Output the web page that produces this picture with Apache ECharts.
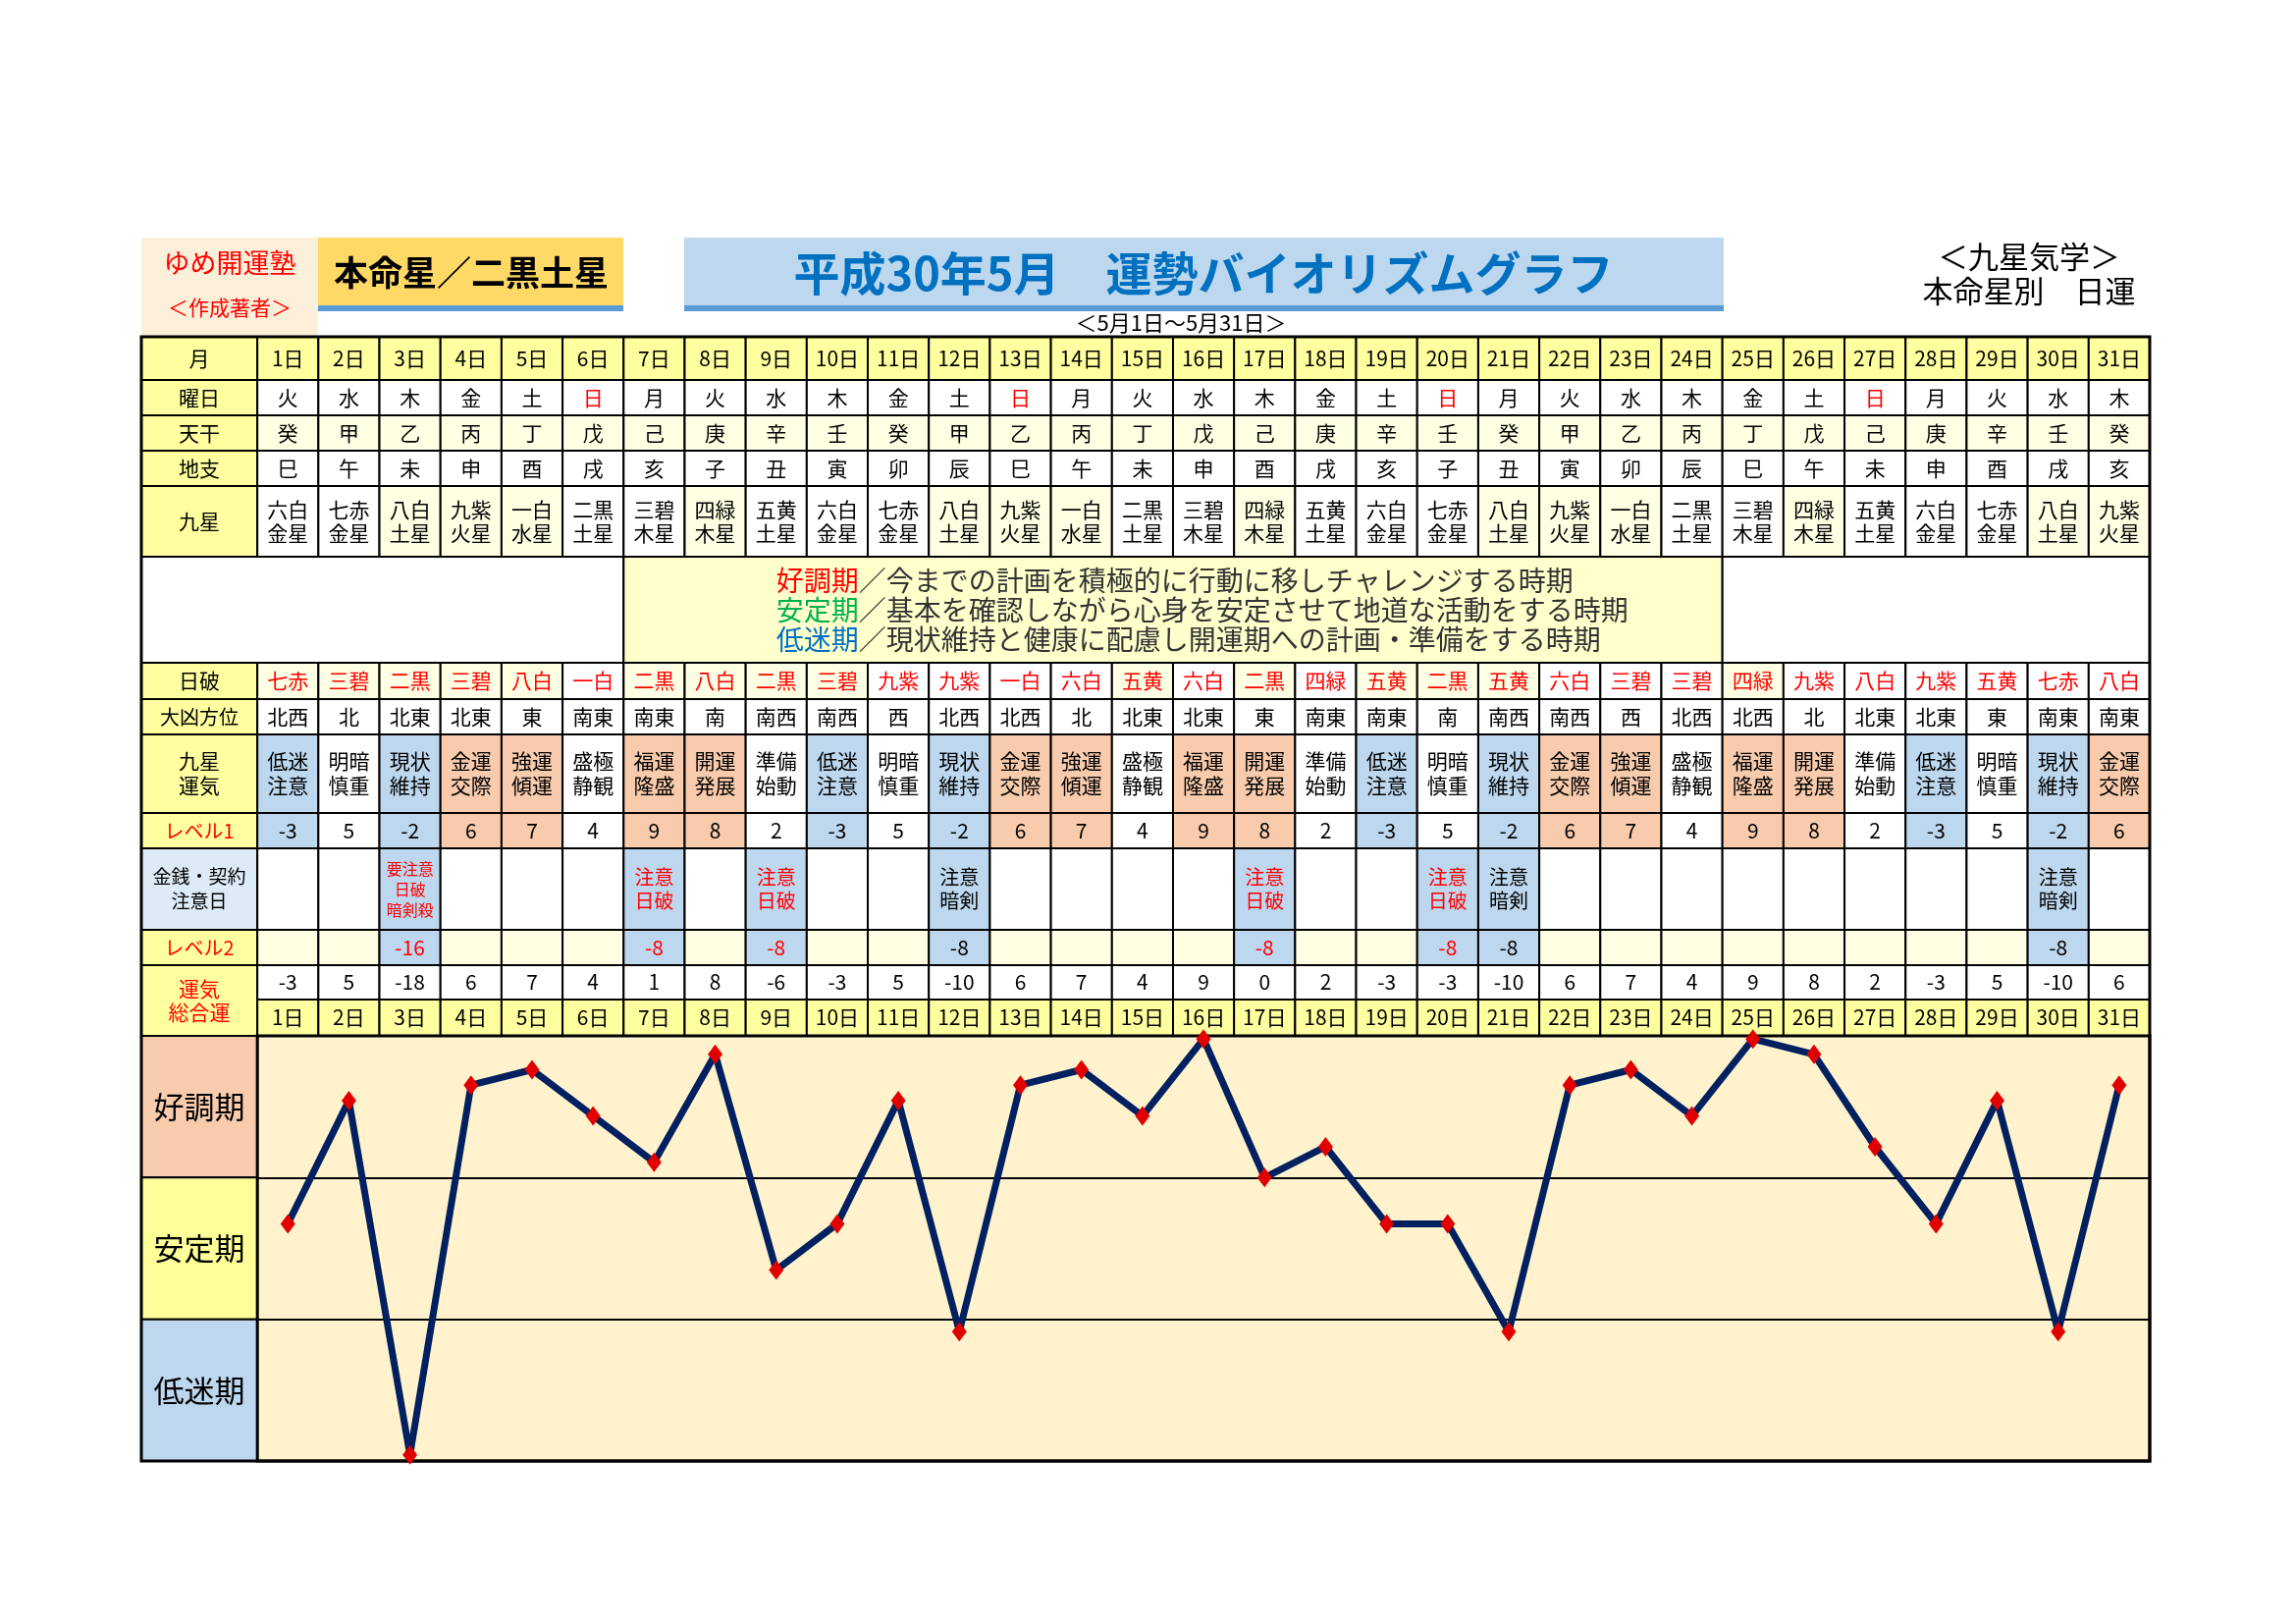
<!DOCTYPE html>
<html>
<head>
<meta charset="utf-8">
<title>運勢バイオリズムグラフ</title>
<script src="https://cdn.jsdelivr.net/npm/echarts@6/dist/echarts.min.js"></script>
<style>
html, body { margin: 0; padding: 0; background: #fff; }
#main { width: 2339px; height: 1654px; }
</style>
</head>
<body>
<div id="main"></div>
<script>
// data
var days = ['1日', '2日', '3日', '4日', '5日', '6日', '7日', '8日', '9日', '10日', '11日', '12日', '13日', '14日', '15日', '16日',
    '17日', '18日', '19日', '20日', '21日', '22日', '23日', '24日', '25日', '26日', '27日', '28日', '29日', '30日', '31日'];
var weekdays = ['火', '水', '木', '金', '土', '日', '月', '火', '水', '木', '金', '土', '日', '月', '火', '水',
    '木', '金', '土', '日', '月', '火', '水', '木', '金', '土', '日', '月', '火', '水', '木'];
var stems = ['癸', '甲', '乙', '丙', '丁', '戊', '己', '庚', '辛', '壬', '癸', '甲', '乙', '丙', '丁', '戊',
    '己', '庚', '辛', '壬', '癸', '甲', '乙', '丙', '丁', '戊', '己', '庚', '辛', '壬', '癸'];
var branches = ['巳', '午', '未', '申', '酉', '戌', '亥', '子', '丑', '寅', '卯', '辰', '巳', '午', '未', '申',
    '酉', '戌', '亥', '子', '丑', '寅', '卯', '辰', '巳', '午', '未', '申', '酉', '戌', '亥'];
var stars = ['六白金星', '七赤金星', '八白土星', '九紫火星', '一白水星', '二黒土星', '三碧木星', '四緑木星', '五黄土星',
    '六白金星', '七赤金星', '八白土星', '九紫火星', '一白水星', '二黒土星', '三碧木星', '四緑木星', '五黄土星',
    '六白金星', '七赤金星', '八白土星', '九紫火星', '一白水星', '二黒土星', '三碧木星', '四緑木星', '五黄土星',
    '六白金星', '七赤金星', '八白土星', '九紫火星'];
var paleStars = ['八白', '九紫', '一白', '四緑'];
var nippa = ['七赤', '三碧', '二黒', '三碧', '八白', '一白', '二黒', '八白', '二黒', '三碧', '九紫', '九紫', '一白', '六白', '五黄', '六白',
    '二黒', '四緑', '五黄', '二黒', '五黄', '六白', '三碧', '三碧', '四緑', '九紫', '八白', '九紫', '五黄', '七赤', '八白'];
var nippaPaleDays = [1, 2, 3, 4, 5, 7, 8, 9, 10, 15, 17, 19, 20, 21, 25];
var badDirections = ['北西', '北', '北東', '北東', '東', '南東', '南東', '南', '南西', '南西', '西', '北西', '北西', '北', '北東', '北東',
    '東', '南東', '南東', '南', '南西', '南西', '西', '北西', '北西', '北', '北東', '北東', '東', '南東', '南東'];
var fortunes = ['低迷注意', '明暗慎重', '現状維持', '金運交際', '強運傾運', '盛極静観', '福運隆盛', '開運発展', '準備始動',
    '低迷注意', '明暗慎重', '現状維持', '金運交際', '強運傾運', '盛極静観', '福運隆盛', '開運発展', '準備始動',
    '低迷注意', '明暗慎重', '現状維持', '金運交際', '強運傾運', '盛極静観', '福運隆盛', '開運発展', '準備始動',
    '低迷注意', '明暗慎重', '現状維持', '金運交際'];
var level1 = [-3, 5, -2, 6, 7, 4, 9, 8, 2, -3, 5, -2, 6, 7, 4, 9, 8, 2, -3, 5, -2, 6, 7, 4, 9, 8, 2, -3, 5, -2, 6];
var notes = ['', '', '要注意\n日破\n暗剣殺', '', '', '', '注意\n日破', '', '注意\n日破', '', '', '注意\n暗剣', '', '', '', '',
    '注意\n日破', '', '', '注意\n日破', '注意\n暗剣', '', '', '', '', '', '', '', '', '注意\n暗剣', ''];
var level2 = [null, null, -16, null, null, null, -8, null, -8, null, null, -8, null, null, null, null,
    -8, null, null, -8, -8, null, null, null, null, null, null, null, null, -8, null];
var totals = [-3, 5, -18, 6, 7, 4, 1, 8, -6, -3, 5, -10, 6, 7, 4, 9, 0, 2, -3, -3, -10, 6, 7, 4, 9, 8, 2, -3, 5, -10, 6];
var periods = ['好調期', '安定期', '低迷期'];
var periodNotes = ['今までの計画を積極的に行動に移しチャレンジする時期',
    '基本を確認しながら心身を安定させて地道な活動をする時期',
    '現状維持と健康に配慮し開運期への計画・準備をする時期'];
var bandLimits = [-18.4, 9.2];

var FONT = '"Noto Sans CJK JP", "Noto Sans", sans-serif';
var COL = {
    head: '#ffffa0', pale: '#ffffe4', white: '#ffffff', good: '#f8cbad', low: '#bdd7ee',
    note: '#ddebf7', desc: '#ffffcc', mid: '#ffff99', red: '#ff0000', plot: '#fff2cc'
};

// table layout (row heights in px)
var LABEL_L = -1.9;
var TABLE_LEFT = 144, TABLE_TOP = 343, TABLE_W = 2046;
var rowDefs = [['month', 44], ['week', 36], ['kan', 36], ['shi', 36], ['star', 72], ['desc', 108],
    ['nippa', 37], ['houi', 36], ['unki', 80], ['lv1', 36], ['money', 83], ['lv2', 36],
    ['total', 35], ['day', 37], ['band0', 433 / 3], ['band1', 433 / 3], ['band2', 433 / 3]];
var rowTop = {}, rowBot = {}, acc = 0;
rowDefs.forEach(function (r) { rowTop[r[0]] = acc; acc += r[1]; rowBot[r[0]] = acc; });
var TABLE_H = acc;
var unit = TABLE_W / (31 - LABEL_L);
var plotLeft = TABLE_LEFT - LABEL_L * unit;

var cells = [];
function addCell(x0, x1, rowA, rowB, text, opt) {
    var c = opt || {};
    c.x0 = x0; c.x1 = x1; c.y0 = rowTop[rowA]; c.y1 = rowBot[rowB];
    c.text = text;
    cells.push(c);
}

// label column
addCell(LABEL_L, 0, 'month', 'month', '月', { bg: COL.head });
addCell(LABEL_L, 0, 'week', 'week', '曜日', { bg: COL.head });
addCell(LABEL_L, 0, 'kan', 'kan', '天干', { bg: COL.head });
addCell(LABEL_L, 0, 'shi', 'shi', '地支', { bg: COL.head });
addCell(LABEL_L, 0, 'star', 'star', '九星', { bg: COL.head });
addCell(LABEL_L, 0, 'nippa', 'nippa', '日破', { bg: COL.head });
addCell(LABEL_L, 0, 'houi', 'houi', '大凶方位', { bg: COL.head, size: 20 });
addCell(LABEL_L, 0, 'unki', 'unki', '九星\n運気', { bg: COL.head, lh: 25 });
addCell(LABEL_L, 0, 'lv1', 'lv1', 'レベル1', { bg: COL.head, color: COL.red, size: 20 });
addCell(LABEL_L, 0, 'money', 'money', '金銭・契約\n注意日', { bg: COL.note, size: 19, lh: 25 });
addCell(LABEL_L, 0, 'lv2', 'lv2', 'レベル2', { bg: COL.head, color: COL.red, size: 20 });
addCell(LABEL_L, 0, 'total', 'day', '運気\n総合運', { bg: COL.head, color: COL.red, lh: 24 });
addCell(LABEL_L, 0, 'band0', 'band0', periods[0], { bg: COL.good, size: 31 });
addCell(LABEL_L, 0, 'band1', 'band1', periods[1], { bg: COL.mid, size: 31 });
addCell(LABEL_L, 0, 'band2', 'band2', periods[2], { bg: COL.low, size: 31 });

function levelBg(v) { return v >= 6 ? COL.good : (v < 0 ? COL.low : COL.white); }

days.forEach(function (d, i) {
    var x0 = i, x1 = i + 1;
    var caution = notes[i] !== '';
    var hakai = notes[i].indexOf('日破') >= 0;
    addCell(x0, x1, 'month', 'month', d, { bg: COL.head });
    addCell(x0, x1, 'week', 'week', weekdays[i], { bg: COL.white, color: weekdays[i] === '日' ? COL.red : '#000' });
    addCell(x0, x1, 'kan', 'kan', stems[i], { bg: COL.pale });
    addCell(x0, x1, 'shi', 'shi', branches[i], { bg: COL.white });
    addCell(x0, x1, 'star', 'star', stars[i].slice(0, 2) + '\n' + stars[i].slice(2),
        { bg: paleStars.indexOf(stars[i].slice(0, 2)) >= 0 ? COL.pale : COL.white, lh: 24 });
    addCell(x0, x1, 'nippa', 'nippa', nippa[i],
        { bg: nippaPaleDays.indexOf(i + 1) >= 0 ? COL.pale : COL.white, color: COL.red });
    addCell(x0, x1, 'houi', 'houi', badDirections[i], { bg: COL.white });
    addCell(x0, x1, 'unki', 'unki', fortunes[i].slice(0, 2) + '\n' + fortunes[i].slice(2),
        { bg: levelBg(level1[i]), lh: 25 });
    addCell(x0, x1, 'lv1', 'lv1', String(level1[i]), { bg: levelBg(level1[i]) });
    addCell(x0, x1, 'money', 'money', notes[i], {
        bg: caution ? COL.low : COL.white, color: hakai ? COL.red : '#000',
        size: notes[i].split('\n').length > 2 ? 16 : 20, lh: notes[i].split('\n').length > 2 ? 21 : 24
    });
    addCell(x0, x1, 'lv2', 'lv2', level2[i] === null ? '' : String(level2[i]),
        { bg: level2[i] === null ? COL.pale : COL.low, color: hakai ? COL.red : '#000' });
    addCell(x0, x1, 'total', 'total', String(totals[i]), { bg: COL.white });
    addCell(x0, x1, 'day', 'day', d, { bg: COL.head });
});

// description block
var descText = periods.map(function (p, k) {
    return '{p' + k + '|' + p + '}{n|／' + periodNotes[k] + '}';
}).join('\n');
function richPart(color) {
    return { fill: color, color: color, fontSize: 28, fontFamily: FONT, lineHeight: 30 };
}
addCell(LABEL_L, 6, 'desc', 'desc', '', { bg: COL.white });
addCell(6, 24, 'desc', 'desc', descText, {
    bg: COL.desc, align: 'left', tx: 8.5,
    rich: { p0: richPart('#ff0000'), p1: richPart('#00b050'), p2: richPart('#0070c0'), n: richPart('#333333') }
});
addCell(24, 31, 'desc', 'desc', '', { bg: COL.white });

// outer frames
addCell(0, 31, 'band0', 'band2', '', { bg: 'none', lw: 3 });
addCell(LABEL_L, 31, 'month', 'band2', '', { bg: 'none', lw: 3 });

function renderCell(params, api) {
    var c = cells[params.dataIndex];
    var p0 = api.coord([api.value(0), api.value(2)]);
    var p1 = api.coord([api.value(1), api.value(3)]);
    var x = Math.min(p0[0], p1[0]), y = Math.min(p0[1], p1[1]);
    var w = Math.abs(p1[0] - p0[0]), h = Math.abs(p1[1] - p0[1]);
    var children = [{
        type: 'rect',
        shape: { x: x, y: y, width: w, height: h },
        style: { fill: c.bg, stroke: '#000', lineWidth: c.lw || 2 }
    }];
    if (c.text) {
        var tx = c.tx != null ? api.coord([c.tx, 0])[0] : x + w / 2;
        children.push({
            type: 'text',
            style: {
                text: c.text, x: tx, y: y + h / 2,
                align: c.align || 'center', verticalAlign: 'middle',
                fill: c.color || '#000', fontSize: c.size || 21, fontFamily: FONT,
                lineHeight: c.lh || 24, rich: c.rich
            }
        });
    }
    return { type: 'group', children: children };
}

var myChart = echarts.init(document.getElementById('main'));

option = {
    backgroundColor: '#ffffff',
    animation: false,
    textStyle: { fontFamily: FONT },
    grid: [
        { left: TABLE_LEFT, top: TABLE_TOP, width: TABLE_W, height: TABLE_H, show: false },
        {
            left: plotLeft, top: TABLE_TOP + rowTop.band0, width: TABLE_LEFT + TABLE_W - plotLeft,
            height: TABLE_H - rowTop.band0, show: true, backgroundColor: COL.plot, borderWidth: 0
        }
    ],
    xAxis: [
        { type: 'value', gridIndex: 0, min: LABEL_L, max: 31, show: false },
        {
            type: 'category', gridIndex: 1, data: days, boundaryGap: true,
            axisLine: { show: false }, axisTick: { show: false }, axisLabel: { show: false }
        }
    ],
    yAxis: [
        { type: 'value', gridIndex: 0, min: 0, max: TABLE_H, inverse: true, show: false },
        {
            type: 'value', gridIndex: 1, min: bandLimits[0], max: bandLimits[1], interval: 9.2,
            axisLine: { show: false }, axisTick: { show: false }, axisLabel: { show: false },
            splitLine: { show: true, lineStyle: { color: '#000', width: 2 } }
        }
    ],
    graphic: [
        { type: 'rect', shape: { x: 144, y: 242, width: 180, height: 101 }, style: { fill: '#fdf0da' } },
        { type: 'text', style: { text: 'ゆめ開運塾', x: 234, y: 268, align: 'center', verticalAlign: 'middle', fill: '#ff0000', fontSize: 27, fontFamily: FONT } },
        { type: 'text', style: { text: '＜作成著者＞', x: 234, y: 313, align: 'center', verticalAlign: 'middle', fill: '#ff0000', fontSize: 21, fontFamily: FONT } },
        { type: 'rect', shape: { x: 324, y: 242, width: 311, height: 69 }, style: { fill: '#ffd966' } },
        { type: 'rect', shape: { x: 324, y: 311, width: 311, height: 6 }, style: { fill: '#5b9bd5' } },
        { type: 'text', style: { text: '本命星／二黒土星', x: 480, y: 278, align: 'center', verticalAlign: 'middle', fill: '#000', fontSize: 35, fontWeight: 'bold', fontFamily: FONT } },
        { type: 'rect', shape: { x: 697, y: 242, width: 1059, height: 69 }, style: { fill: '#bdd7ee' } },
        { type: 'rect', shape: { x: 697, y: 311, width: 1059, height: 6 }, style: { fill: '#5b9bd5' } },
        { type: 'text', style: { text: '平成30年5月　運勢バイオリズムグラフ', x: 1226, y: 278, align: 'center', verticalAlign: 'middle', fill: '#0070c0', fontSize: 47, fontWeight: 'bold', fontFamily: FONT } },
        { type: 'text', style: { text: '＜5月1日～5月31日＞', x: 1203, y: 329, align: 'center', verticalAlign: 'middle', fill: '#000', fontSize: 22, fontFamily: FONT } },
        { type: 'text', style: { text: '＜九星気学＞', x: 2067, y: 261, align: 'center', verticalAlign: 'middle', fill: '#000', fontSize: 31, fontFamily: FONT } },
        { type: 'text', style: { text: '本命星別　日運', x: 2067, y: 296, align: 'center', verticalAlign: 'middle', fill: '#000', fontSize: 31, fontFamily: FONT } }
    ],
    series: [
        {
            name: 'table',
            type: 'custom',
            xAxisIndex: 0,
            yAxisIndex: 0,
            renderItem: renderCell,
            encode: { x: [0, 1], y: [2, 3] },
            silent: true,
            z: 1,
            data: cells.map(function (c) { return [c.x0, c.x1, c.y0, c.y1]; })
        },
        {
            name: '運気総合運',
            type: 'line',
            xAxisIndex: 1,
            yAxisIndex: 1,
            data: totals,
            z: 5,
            lineStyle: { color: '#002060', width: 7 },
            symbol: 'diamond',
            symbolSize: [15, 20],
            itemStyle: { color: '#e00000' }
        }
    ]
};
myChart.setOption(option);
</script>
</body>
</html>
